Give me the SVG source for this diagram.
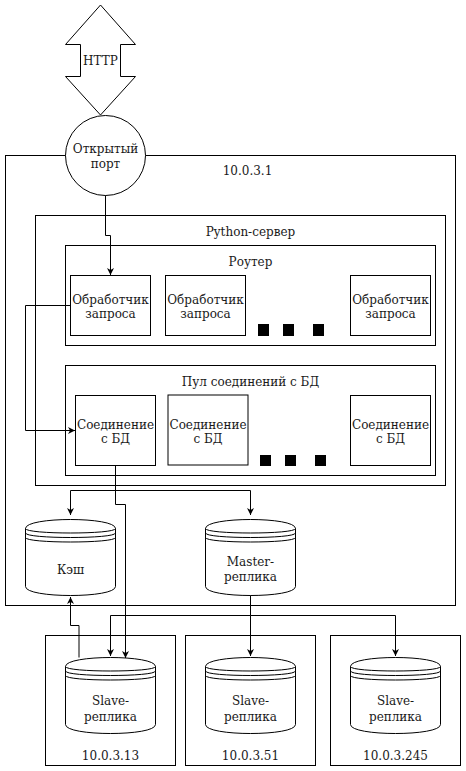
<svg xmlns="http://www.w3.org/2000/svg" width="466" height="771" viewBox="0 0 466 771">
<style>
.b{fill:#fff;stroke:#000;stroke-width:1}
.n{fill:none;stroke:#000;stroke-width:1}
.c{fill:none;stroke:#000;stroke-width:1}
.t{font-family:"DejaVu Serif","Liberation Serif",serif;font-size:12px;fill:#1a1a1a;text-anchor:middle}
.d{fill:#000;stroke:none}
</style>
<defs>
<marker id="ar" markerUnits="userSpaceOnUse" markerWidth="8" markerHeight="8" refX="7" refY="3.5" orient="auto">
<path d="M0,0 L7,3.5 L0,7 L2,3.5 Z" fill="#000"/>
</marker>
<g id="cyl">
<path class="b" d="M0,9 C0,-3 90,-3 90,9 L90,67 C90,79 0,79 0,67 Z"/>
<path class="n" d="M0,9 C0,15 90,15 90,9 M0,13.5 C0,19.5 90,19.5 90,13.5 M0,18 C0,24 90,24 90,18"/>
</g>
</defs>
<rect width="466" height="771" fill="#fff"/>

<g id="http">
<polygon class="b" points="100.5,5 135.5,44.5 120.5,44.5 120.5,76.5 135.5,76.5 100.5,115 65.5,76.5 80.5,76.5 80.5,44.5 65.5,44.5"/>
<text class="t" x="100.5" y="65">HTTP</text>
</g>

<g id="host1">
<rect class="b" x="5.5" y="155.5" width="450" height="450"/>
<text class="t" x="247.5" y="175">10.0.3.1</text>
</g>

<g id="port">
<circle class="b" cx="105.5" cy="155.5" r="40"/>
<text class="t" x="105.5" y="152.5">Открытый</text>
<text class="t" x="105.5" y="167.5">порт</text>
</g>

<g id="python">
<rect class="b" x="35.5" y="215.5" width="410" height="270"/>
<text class="t" x="250.5" y="236">Python-сервер</text>
</g>

<g id="router">
<rect class="b" x="65.5" y="245.5" width="370" height="100"/>
<text class="t" x="250.5" y="265.5">Роутер</text>
</g>

<g id="handler1">
<rect class="b" x="70.5" y="275.5" width="80" height="60"/>
<text class="t" x="110.5" y="303.5">Обработчик</text>
<text class="t" x="110.5" y="317.5">запроса</text>
</g>
<g id="handler2">
<rect class="b" x="165.5" y="275.5" width="80" height="60"/>
<text class="t" x="205.5" y="303.5">Обработчик</text>
<text class="t" x="205.5" y="317.5">запроса</text>
</g>
<g id="handler3">
<rect class="b" x="350.5" y="275.5" width="80" height="60"/>
<text class="t" x="390.5" y="303.5">Обработчик</text>
<text class="t" x="390.5" y="317.5">запроса</text>
</g>
<g id="handler-dots">
<rect class="d" x="258" y="324" width="11" height="12"/>
<rect class="d" x="283" y="324" width="11" height="12"/>
<rect class="d" x="313" y="324" width="11" height="12"/>
</g>

<g id="pool">
<rect class="b" x="65.5" y="365.5" width="370" height="110"/>
<text class="t" x="250.5" y="386">Пул соединений с БД</text>
</g>

<g id="conn1">
<rect class="b" x="75.5" y="395.5" width="80" height="70"/>
<text class="t" x="115.5" y="428.5">Соединение</text>
<text class="t" x="115.5" y="443">с БД</text>
</g>
<g id="conn2">
<rect class="b" x="168" y="395" width="80" height="70"/>
<text class="t" x="208" y="428.5">Соединение</text>
<text class="t" x="208" y="443">с БД</text>
</g>
<g id="conn3">
<rect class="b" x="350.5" y="395.5" width="80" height="70"/>
<text class="t" x="390.5" y="428.5">Соединение</text>
<text class="t" x="390.5" y="443">с БД</text>
</g>
<g id="conn-dots">
<rect class="d" x="260" y="455" width="11" height="11"/>
<rect class="d" x="285" y="455" width="11" height="11"/>
<rect class="d" x="315" y="455" width="11" height="11"/>
</g>

<g id="cache">
<use href="#cyl" x="25.5" y="519.5"/>
<text class="t" x="70.5" y="574">Кэш</text>
</g>
<g id="master">
<use href="#cyl" x="205.5" y="519.5"/>
<text class="t" x="250.5" y="565.5">Master-</text>
<text class="t" x="250.5" y="581">реплика</text>
</g>

<g id="host13">
<rect class="b" x="45.5" y="635.5" width="130" height="130"/>
<text class="t" x="110.5" y="759.5">10.0.3.13</text>
</g>
<g id="host51">
<rect class="b" x="185.5" y="635.5" width="130" height="130"/>
<text class="t" x="250.5" y="759.5">10.0.3.51</text>
</g>
<g id="host245">
<rect class="b" x="330.5" y="635.5" width="130" height="130"/>
<text class="t" x="395.5" y="759.5">10.0.3.245</text>
</g>

<g id="slave1">
<use href="#cyl" x="65.5" y="657.5"/>
<text class="t" x="110.5" y="704.5">Slave-</text>
<text class="t" x="110.5" y="720.5">реплика</text>
</g>
<g id="slave2">
<use href="#cyl" x="205.5" y="657.5"/>
<text class="t" x="250.5" y="704.5">Slave-</text>
<text class="t" x="250.5" y="720.5">реплика</text>
</g>
<g id="slave3">
<use href="#cyl" x="350.5" y="657.5"/>
<text class="t" x="395.5" y="704.5">Slave-</text>
<text class="t" x="395.5" y="720.5">реплика</text>
</g>

<g id="connectors">
<polyline class="c" points="105.5,195.5 105.5,235.5 110.5,235.5 110.5,275" marker-end="url(#ar)"/>
<polyline class="c" points="70.5,305.5 25.5,305.5 25.5,430.5 75,430.5" marker-end="url(#ar)"/>
<polyline class="c" points="115.5,465.5 115.5,504.5 125.5,504.5 125.5,658" marker-end="url(#ar)"/>
<polyline class="c" points="115.5,465.5 115.5,490.5 70.5,490.5 70.5,515" marker-end="url(#ar)"/>
<polyline class="c" points="115.5,490.5 250.5,490.5 250.5,515" marker-end="url(#ar)"/>
<polyline class="c" points="250.5,595.5 250.5,615.5 110.5,615.5 110.5,656" marker-end="url(#ar)"/>
<polyline class="c" points="250.5,615.5 250.5,656" marker-end="url(#ar)"/>
<polyline class="c" points="250.5,615.5 395.5,615.5 395.5,656" marker-end="url(#ar)"/>
<polyline class="c" points="79,657.5 79,625.5 70.5,625.5 70.5,597" marker-end="url(#ar)"/>
</g>
</svg>
